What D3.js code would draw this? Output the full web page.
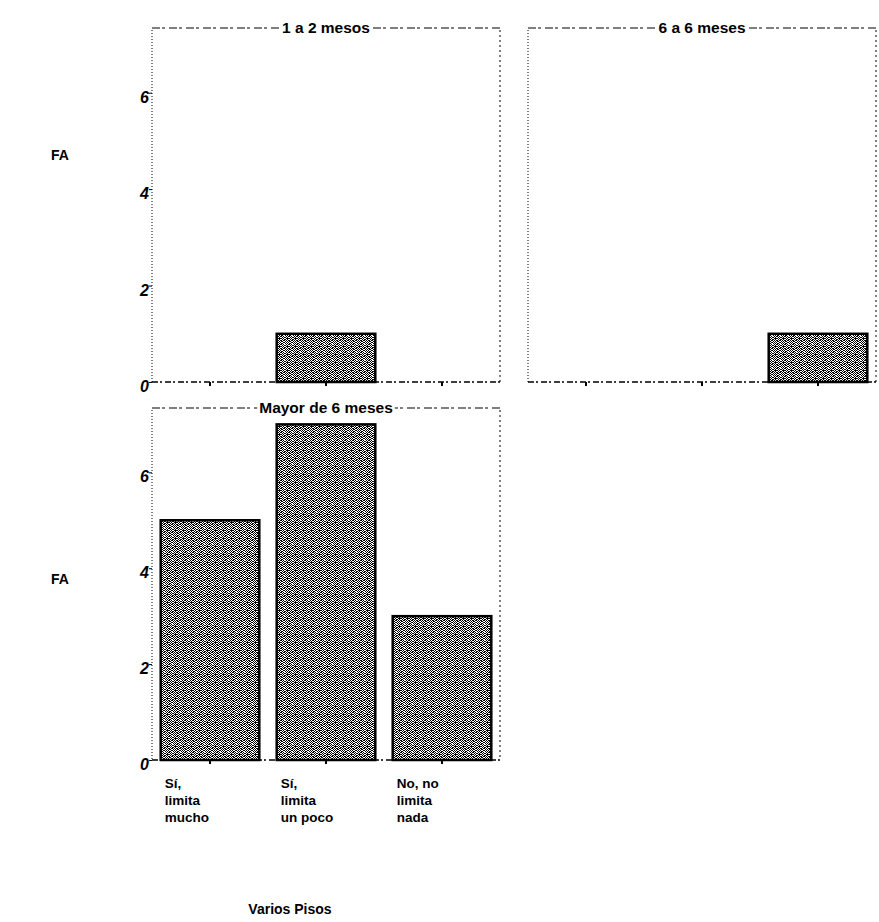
<!DOCTYPE html>
<html><head><meta charset="utf-8">
<script src="https://cdn.jsdelivr.net/npm/d3@7"></script>
<style>body{margin:0;background:#fff}</style>
</head><body>
<script>
const categories = ["Sí, limita mucho", "Sí, limita un poco", "No, no limita nada"];
const categoryLines = [["Sí,", "limita", "mucho"], ["Sí,", "limita", "un poco"], ["No, no", "limita", "nada"]];
const panelTitles = ["1 a 2 mesos", "6 a 6 meses", "Mayor de 6 meses"];
const values1 = [0, 1, 0];
const values2 = [0, 0, 1];
const values3 = [5, 7, 3];
const yTicks = [0, 2, 4, 6];
const yLabel = "FA";
const xLabel = "Varios Pisos";

const W = 879, H = 922;
const svg = d3.select("body").append("svg").attr("width", W).attr("height", H)
  .style("font-family", "Arial, 'Liberation Sans', sans-serif");

const defs = svg.append("defs");
const pat = defs.append("pattern").attr("id", "stip").attr("patternUnits", "userSpaceOnUse")
  .attr("width", 8).attr("height", 8);
pat.append("rect").attr("width", 8).attr("height", 8).attr("fill", "#fff");
const dots = [[0,0],[1,0],[3,0],[6,0],[2,1],[4,1],[5,1],[7,1],[0,2],[1,2],[3,2],[6,2],[7,2],
  [2,3],[4,3],[5,3],[0,4],[3,4],[4,4],[6,4],[1,5],[2,5],[5,5],[7,5],[0,6],[3,6],[4,6],[6,6],
  [1,7],[2,7],[5,7],[7,7],[7,3],[1,4]];
dots.forEach(d => pat.append("rect").attr("x", d[0]).attr("y", d[1]).attr("width", 1).attr("height", 1).attr("fill", "#000"));

const panels = [
  {title: panelTitles[0], values: values1, x0: 152, x1: 500, y0: 30, y1: 382, yAxisLabels: true, xLabels: false},
  {title: panelTitles[1], values: values2, x0: 528, x1: 876, y0: 30, y1: 382, yAxisLabels: false, xLabels: false},
  {title: panelTitles[2], values: values3, x0: 152, x1: 500, y0: 410, y1: 760, yAxisLabels: true, xLabels: true}
];

panels.forEach(p => {
  const g = svg.append("g");
  const x = d3.scaleBand().domain(categories).range([p.x0, p.x1]).paddingInner(0.15).paddingOuter(0.075);
  const y = d3.scaleLinear().domain([0, 7.3]).range([p.y1, p.y0]);

  g.append("line").attr("x1", p.x0).attr("x2", p.x0).attr("y1", p.y0).attr("y2", p.y1)
    .attr("stroke", "#000").attr("stroke-width", 1).attr("stroke-dasharray", "1,2");
  g.append("line").attr("x1", p.x1).attr("x2", p.x1).attr("y1", p.y0).attr("y2", p.y1)
    .attr("stroke", "#000").attr("stroke-width", 1).attr("stroke-dasharray", "2,3");
  g.append("line").attr("x1", p.x0).attr("x2", p.x1).attr("y1", p.y1).attr("y2", p.y1)
    .attr("stroke", "#000").attr("stroke-width", 1.5).attr("stroke-dasharray", "6,2,2,3");
  g.append("line").attr("x1", p.x0).attr("x2", p.x1).attr("y1", p.y0 - 2).attr("y2", p.y0 - 2)
    .attr("stroke", "#000").attr("stroke-width", 1.2).attr("stroke-dasharray", "8,2,3,4");

  const cx = (p.x0 + p.x1) / 2;
  const t = g.append("text").attr("x", cx).attr("y", p.y0 + 3).attr("text-anchor", "middle")
    .attr("font-size", 15.5).attr("font-weight", "bold").text(p.title);
  const bb = t.node().getBBox();
  g.insert("rect", "text").attr("x", bb.x - 2).attr("y", bb.y).attr("width", bb.width + 4).attr("height", bb.height).attr("fill", "#fff");

  if (p.yAxisLabels) {
    const ax = d3.axisLeft(y).tickValues(yTicks).tickSize(3).tickFormat(d3.format("d"));
    const ag = g.append("g").attr("transform", `translate(${p.x0},0)`).call(ax);
    ag.select(".domain").remove();
    ag.selectAll("text").attr("font-size", 16).attr("font-style", "italic").attr("font-weight", "bold")
      .attr("font-family", "Arial, 'Liberation Sans', sans-serif").attr("dx", 3).attr("dy", "0.6em");
  }

  categories.forEach(c => {
    g.append("line").attr("x1", x(c) + x.bandwidth() / 2).attr("x2", x(c) + x.bandwidth() / 2)
      .attr("y1", p.y1).attr("y2", p.y1 + 4).attr("stroke", "#000").attr("stroke-width", 2);
  });

  g.selectAll("rect.bar").data(p.values.map((v, i) => ({c: categories[i], v})).filter(d => d.v > 0))
    .enter().append("rect").attr("class", "bar")
    .attr("x", d => x(d.c)).attr("width", x.bandwidth())
    .attr("y", d => y(d.v)).attr("height", d => y(0) - y(d.v))
    .attr("fill", "url(#stip)").attr("stroke", "#000").attr("stroke-width", 2.5);

  if (p.xLabels) {
    categories.forEach((c, i) => {
      const tx = g.append("text").attr("x", x(c) + 4).attr("y", p.y1 + 28)
        .attr("font-size", 13.5).attr("font-weight", "bold");
      categoryLines[i].forEach((ln, j) => tx.append("tspan").attr("x", x(c) + 4).attr("dy", j === 0 ? 0 : 17).text(ln));
    });
  }
});

svg.append("text").attr("x", 51).attr("y", 160).attr("font-size", 14).attr("font-weight", "bold").text(yLabel);
svg.append("text").attr("x", 51).attr("y", 584).attr("font-size", 14).attr("font-weight", "bold").text(yLabel);
svg.append("text").attr("x", 290).attr("y", 914).attr("text-anchor", "middle").attr("font-size", 14).attr("font-weight", "bold").text(xLabel);
</script>
</body></html>
